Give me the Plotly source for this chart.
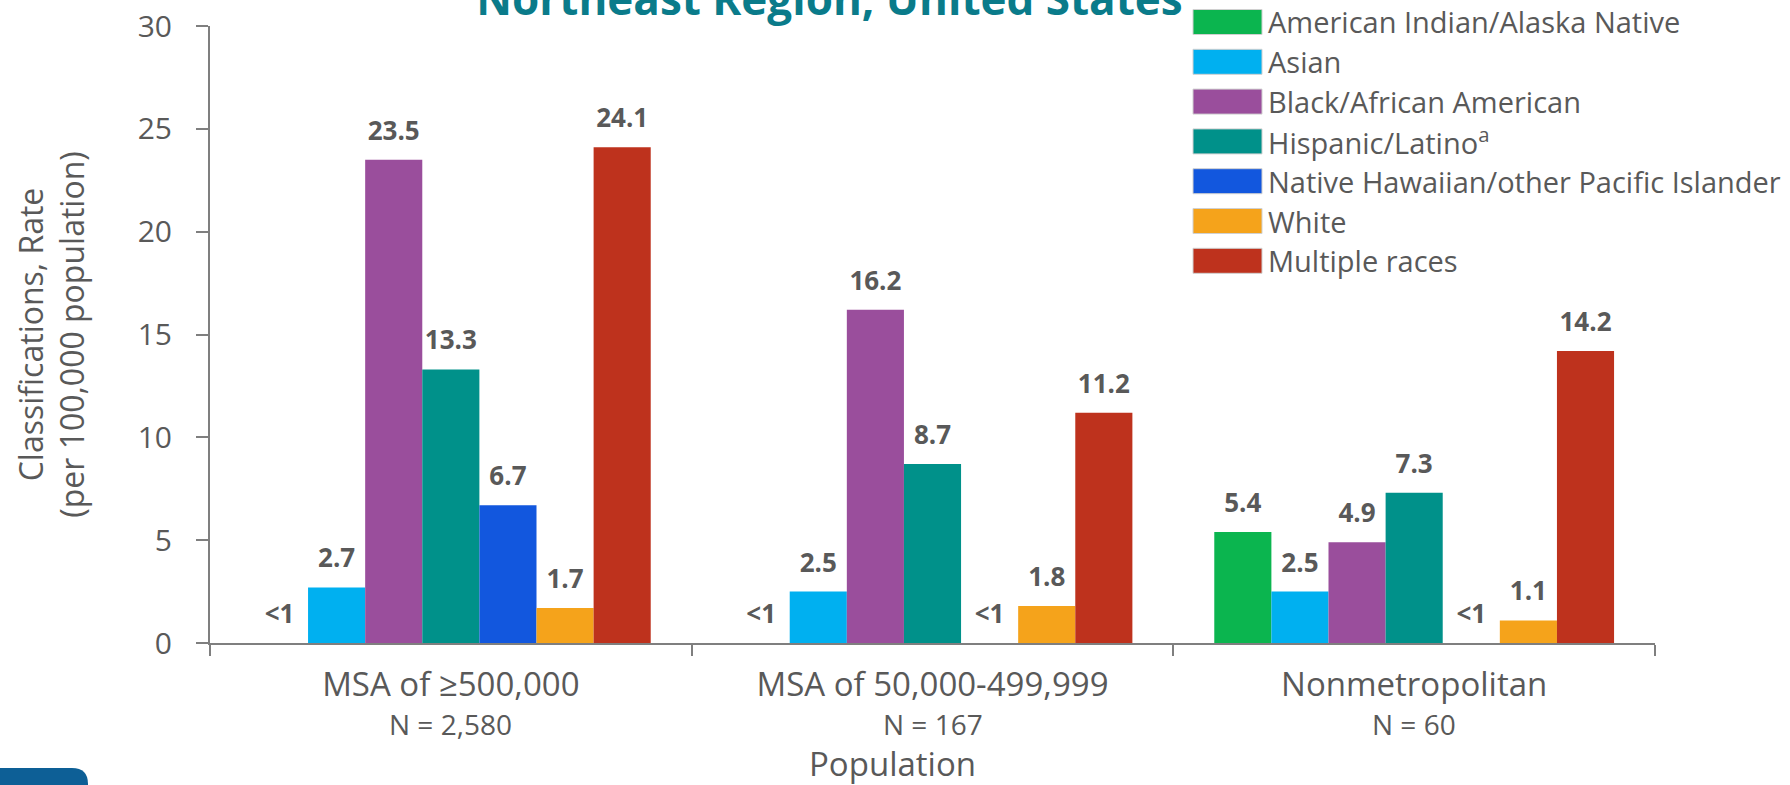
import plotly.graph_objects as go

# data
categories = ["MSA of ≥500,000", "MSA of 50,000-499,999", "Nonmetropolitan"]
n_labels = ["N = 2,580", "N = 167", "N = 60"]

series_names = ["American Indian/Alaska Native", "Asian", "Black/African American",
                "Hispanic/Latino<sup>a</sup>", "Native Hawaiian/other Pacific Islander",
                "White", "Multiple races"]
aian = [0, 0, 5.4]
asian = [2.7, 2.5, 2.5]
black = [23.5, 16.2, 4.9]
hispanic = [13.3, 8.7, 7.3]
nhpi = [6.7, 0, 0]
white = [1.7, 1.8, 1.1]
multiple = [24.1, 11.2, 14.2]
series_values = [aian, asian, black, hispanic, nhpi, white, multiple]
colors = ["#0BB54F", "#00B0F0", "#9A4E9C", "#00918A", "#1257DE", "#F5A31B", "#BE321D"]

grey = "#595959"
font = "Open Sans"

fig = go.Figure()
for name, vals, col in zip(series_names, series_values, colors):
    fig.add_trace(go.Bar(x=categories, y=vals, name=name, marker_color=col,
                         marker_line_width=0, showlegend=False, hoverinfo="skip"))

# value labels, grouped the same way as the bars
for name, vals in zip(series_names, series_values):
    labels = ["<1" if v < 1 else f"{v:.1f}" for v in vals]
    fig.add_trace(go.Scatter(x=categories, y=vals, mode="markers+text", text=labels,
                             textposition="top center", marker=dict(size=20, opacity=0),
                             textfont=dict(family=font, size=26, color=grey, weight="bold"),
                             cliponaxis=False, showlegend=False, hoverinfo="skip"))

W = 1445
H = 617

# sample sizes under each category name
for c, n in zip(categories, n_labels):
    fig.add_annotation(xref="x", yref="paper", x=c, y=(643 - 724) / H, text=n,
                       showarrow=False, yanchor="middle",
                       font=dict(family=font, size=28, color=grey))

# legend drawn as wide swatches like the original
for i, (name, col) in enumerate(zip(series_names, colors)):
    yc = 22 + i * 39.8
    fig.add_shape(type="rect", xref="paper", yref="paper",
                  x0=(1193 - 210) / W, x1=(1262 - 210) / W,
                  y0=(643 - yc - 12.5) / H, y1=(643 - yc + 12.5) / H,
                  fillcolor=col, line=dict(color="#d0d0d0", width=1))
    fig.add_annotation(xref="paper", yref="paper", x=(1266 - 210) / W, y=(643 - yc) / H,
                       text=name, showarrow=False, xanchor="left", yanchor="middle",
                       font=dict(family=font, size=29, color=grey))

# x axis title sits a little left of centre in the original
fig.add_annotation(xref="paper", yref="paper", x=(892 - 210) / W, y=(643 - 763) / H,
                   text="Population", showarrow=False, xanchor="center", yanchor="middle",
                   font=dict(family=font, size=33, color=grey))

# partial logo block in bottom-left corner
fig.add_shape(type="path", xref="paper", yref="paper",
              path=f"M {-210/W},{(643-768)/H} L {(72-210)/W},{(643-768)/H} "
                   f"Q {(88-210)/W},{(643-768)/H} {(88-210)/W},{(643-784)/H} "
                   f"L {(88-210)/W},{(643-800)/H} L {-210/W},{(643-800)/H} Z",
              fillcolor="#0D5F96", line_width=0)

fig.update_layout(
    width=1790, height=785,
    margin=dict(l=210, r=135, t=26, b=142),
    paper_bgcolor="white", plot_bgcolor="white",
    barmode="group", bargap=0.17, bargroupgap=0,
    scattermode="group", scattergap=0.17,
    font=dict(family=font, color=grey),
    title=dict(text="<b>Northeast Region, United States</b>", x=0.4634, xanchor="center",
               y=1.0, yanchor="middle", yref="container",
               font=dict(family=font, size=44, color="#0A7B8A")),
    xaxis=dict(tickson="boundaries", ticks="outside", ticklen=11, tickwidth=2,
               tickcolor="#7f7f7f", showline=True, linecolor="#7f7f7f", linewidth=2,
               tickfont=dict(size=33, color=grey), showgrid=False, automargin=False,
               ticklabelstandoff=11),
    yaxis=dict(range=[0, 30], dtick=5, ticks="outside", ticklen=12, tickwidth=2,
               tickcolor="#7f7f7f", showline=True, linecolor="#7f7f7f", linewidth=2,
               tickfont=dict(size=30, color=grey), showgrid=False, zeroline=False,
               ticklabelstandoff=18, automargin=False,
               title=dict(text="Classifications, Rate<br>(per 100,000 population)",
                          font=dict(size=32, color=grey), standoff=43)),
)

fig.write_html("out.html", config={"displayModeBar": False},
               post_script="document.body.style.margin='0';document.body.style.overflow='hidden';")
